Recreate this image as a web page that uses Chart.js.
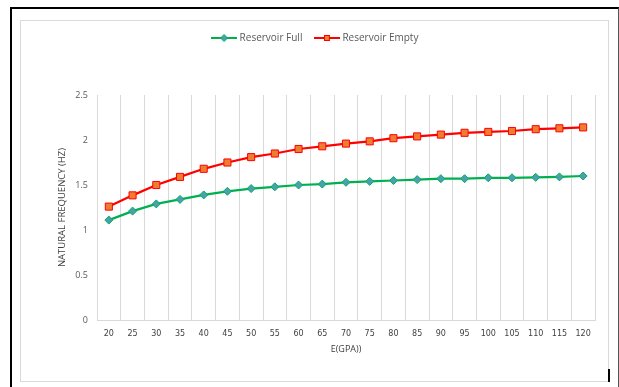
<!DOCTYPE html>
<html>
<head>
<meta charset="utf-8">
<script src="https://cdn.jsdelivr.net/npm/chart.js@4.4.1/dist/chart.umd.min.js"></script>
<style>
  html, body { margin: 0; padding: 0; background: #fff; }
  #wrap { position: relative; width: 619px; height: 387px; overflow: hidden; }
  #outer { position: absolute; left: 10px; top: 7px; width: 606px; height: 400px;
           border-left: 2px solid #000; border-top: 2px solid #000; border-right: 1px solid #555; }
  #inner { position: absolute; left: 20px; top: 20px; width: 587px; height: 360px; border: 1px solid #d9d9d9; }
  #mark  { position: absolute; left: 608px; top: 369px; width: 2px; height: 13px; background: #000; }
  #chart { position: absolute; left: 0; top: 0; }
</style>
</head>
<body>
<div id="wrap">
  <div id="outer"></div>
  <div id="inner"></div>
  <div id="mark"></div>
  <canvas id="chart" width="619" height="387"></canvas>
</div>
<script>
// Young's modulus E (GPa) on the x axis
const categories = ['20', '25', '30', '35', '40', '45', '50', '55', '60', '65', '70',
                    '75', '80', '85', '90', '95', '100', '105', '110', '115', '120'];

// Natural frequency (Hz) for each reservoir condition
const reservoirFull  = [1.11, 1.21, 1.29, 1.34, 1.39, 1.43, 1.46, 1.48, 1.50, 1.51, 1.53,
                        1.54, 1.55, 1.56, 1.57, 1.57, 1.58, 1.58, 1.585, 1.59, 1.60];
const reservoirEmpty = [1.26, 1.385, 1.50, 1.59, 1.68, 1.75, 1.81, 1.85, 1.90, 1.93, 1.96,
                        1.985, 2.02, 2.04, 2.06, 2.08, 2.09, 2.10, 2.12, 2.13, 2.14];

const yTicks = [0, 0.5, 1, 1.5, 2, 2.5];

const seriesNames = ['Reservoir Full', 'Reservoir Empty'];

const GREEN = '#00b050';
const TEAL  = '#4a9fb5';
const RED   = '#ff0000';
const ORANGE = '#ed7d31';

// Small legend swatch: a line segment with the series marker in the middle
function legendSwatch(kind, lineColor, fill, border) {
  const c = document.createElement('canvas');
  c.width = 26; c.height = 10;
  const g = c.getContext('2d');
  g.strokeStyle = lineColor; g.lineWidth = 2;
  g.beginPath(); g.moveTo(0, 5); g.lineTo(26, 5); g.stroke();
  g.fillStyle = fill; g.strokeStyle = border; g.lineWidth = 1;
  if (kind === 'diamond') {
    g.beginPath(); g.moveTo(13, 1.5); g.lineTo(16.5, 5); g.lineTo(13, 8.5); g.lineTo(9.5, 5);
    g.closePath(); g.fill(); g.stroke();
  } else {
    g.fillRect(10, 2, 6, 6); g.strokeRect(10.5, 2.5, 5, 5);
  }
  return c;
}
const swatches = [
  legendSwatch('diamond', GREEN, TEAL, GREEN),
  legendSwatch('square', RED, ORANGE, RED)
];

const PAD_TOP = 19;
const PLOT_TOP = 95;

// Fix the legend band height so the plot starts at the same place every time
const legendBand = {
  id: 'legendBand',
  afterInit(chart) {
    const lg = chart.legend;
    if (!lg) return;
    const fit = lg.fit.bind(lg);
    lg.fit = function () { fit(); this.height = PLOT_TOP - PAD_TOP; };
  }
};

const FONT = "'Open Sans', 'Liberation Sans', sans-serif";
const PAD_LEFT = 37;

new Chart(document.getElementById('chart'), {
  type: 'line',
  data: {
    labels: categories,
    datasets: [
      {
        label: seriesNames[0],
        data: reservoirFull,
        borderColor: GREEN,
        backgroundColor: TEAL,
        borderWidth: 2.25,
        pointStyle: 'rectRot',
        pointRadius: 4,
        pointBorderColor: GREEN,
        pointBackgroundColor: TEAL,
        pointBorderWidth: 1,
        tension: 0,
        fill: false
      },
      {
        label: seriesNames[1],
        data: reservoirEmpty,
        borderColor: RED,
        backgroundColor: ORANGE,
        borderWidth: 2.25,
        pointStyle: 'rect',
        pointRadius: 5,
        pointBorderColor: RED,
        pointBackgroundColor: ORANGE,
        pointBorderWidth: 1,
        tension: 0,
        fill: false
      }
    ]
  },
  options: {
    responsive: false,
    animation: false,
    devicePixelRatio: 1,
    layout: { padding: { left: PAD_LEFT, right: 24, top: PAD_TOP, bottom: 22 } },
    plugins: {
      tooltip: { enabled: false },
      legend: {
        display: true,
        position: 'top',
        labels: {
          usePointStyle: true,
          pointStyleWidth: 21,
          padding: 14,
          color: '#595959',
          font: { family: FONT, size: 10 },
          generateLabels(chart) {
            const items = Chart.defaults.plugins.legend.labels.generateLabels(chart);
            items.forEach((it, i) => { it.pointStyle = swatches[i]; });
            return items;
          }
        }
      }
    },
    scales: {
      x: {
        type: 'category',
        offset: true,
        grid: { display: true, offset: true, color: '#d9d9d9', lineWidth: 1, drawTicks: false },
        border: { display: true, color: '#d9d9d9' },
        ticks: {
          color: '#404040',
          font: { family: "'DejaVu Sans', sans-serif", size: 8 },
          padding: 9,
          maxRotation: 0,
          autoSkip: false
        },
        title: {
          display: true,
          text: 'E(GPA))',
          color: '#404040',
          font: { family: FONT, size: 9 },
          padding: { top: 0, bottom: 10 }
        },
        afterFit(s) { s.height = 387 - 320 - 22; }
      },
      y: {
        min: 0,
        max: 2.5,
        afterBuildTicks(s) { s.ticks = yTicks.map(v => ({ value: v })); },
        grid: { display: false, drawTicks: false },
        border: { display: false },
        ticks: {
          color: '#595959',
          font: { family: FONT, size: 9 },
          padding: 9,
          callback: v => String(v)
        },
        title: {
          display: true,
          text: 'NATURAL FREQUENCY (HZ)',
          color: '#404040',
          font: { family: FONT, size: 9.5 },
          padding: { top: 20, bottom: 0 }
        },
        afterFit(s) { s.width = 97 - PAD_LEFT; }
      }
    }
  },
  plugins: [legendBand]
});
</script>
</body>
</html>
